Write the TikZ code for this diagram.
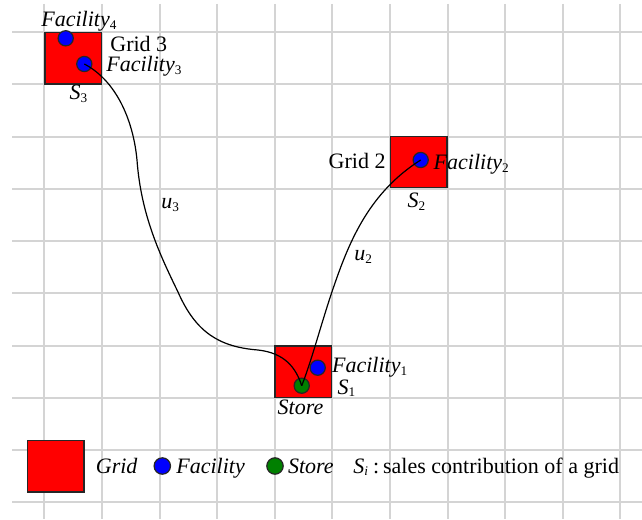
\documentclass[tikz,border=0pt]{standalone}
\usepackage{fontspec}
\setmainfont{Liberation Serif}
\usepackage{tikz}
\usetikzlibrary{positioning,calc}
\definecolor{gridgrey}{RGB}{212,212,212}
\definecolor{storegreen}{RGB}{0,128,0}
\newcommand{\idx}[1]{\raisebox{-1.4pt}{\fontsize{6.6}{8}\selectfont #1}}

\begin{document}
\begin{tikzpicture}[x=0.5pt, y=-0.5pt, font=\fontsize{11}{13}\selectfont,
  gridline/.style={draw=gridgrey, line width=1pt},
  cellbox/.style={draw=black!85, fill=red, line width=0.7pt, minimum width=28.2pt, minimum height=25.6pt, inner sep=0pt},
  facdot/.style={circle, draw=black!85, fill=blue, line width=0.6pt, minimum size=7.6pt, inner sep=0pt},
  storedot/.style={facdot, fill=storegreen},
  lab/.style={anchor=base west, inner sep=0pt},
  link/.style={draw=black, line width=0.6pt}]
\useasboundingbox (0,0) rectangle (642,519);
% background grid
\foreach \x in {0,...,10} \draw[gridline] ({44.3+57.6*\x},4) -- ({44.3+57.6*\x},519);
\foreach \y in {0,...,9} \draw[gridline] (12,{32.3+52.2*\y}) -- (642,{32.3+52.2*\y});
% grids
\node[cellbox] (grid3) at (73.1,58.4) {};
\node[cellbox] (grid2) at (418.7,162) {};
\node[cellbox] (grid1) at (303,371.6) {};
% facilities and store
\node[facdot] (fac4) at (65.7,38.3) {};
\node[facdot] (fac3) at (84.3,64) {};
\node[facdot] (fac2) at (420.7,160) {};
\node[facdot] (fac1) at (317.7,367.7) {};
\node[storedot] (store) at (301.7,385.7) {};
% routes
\draw[link] (fac3.center) .. controls (115,80) and (133,118) .. (137,160) .. controls (141,215) and (160,255) .. (178,292) .. controls (196,333) and (220,347) .. (258,350) .. controls (285,353) and (296,368) .. (store.center);
\draw[link] (store.center) .. controls (312,360) and (322,320) .. (335,283) .. controls (350,240) and (370,192) .. (fac2.center);
% labels
\node[lab] (l4) at (41,26.7) {\textit{Facility}\idx{4}};
\node[lab] (g3) at (110,51.7) {Grid 3};
\node[lab] (l3) at (106,71.7) {\textit{Facility}\idx{3}};
\node[lab] (s3) at (69.3,100) {\textit{S}\idx{3}};
\node[lab] (g2) at (328.3,168.3) {Grid 2};
\node[lab] (l2) at (433.3,169.3) {\textit{Facility}\idx{2}};
\node[lab] (s2) at (407.3,207.3) {\textit{S}\idx{2}};
\node[lab] (u3) at (161,208.3) {\textit{u}\idx{3}};
\node[lab] (u2) at (354,260.7) {\textit{u}\idx{2}};
\node[lab] (l1) at (331.7,372.7) {\textit{Facility}\idx{1}};
\node[lab] (s1) at (337.3,394) {\textit{S}\idx{1}};
\node[lab] (st) at (277.3,414) {\textit{Store}};
% legend
\node[cellbox] (keygrid) at (55.8,466.2) {};
\node[lab] (keygridtxt) at (95.5,473) {\textit{Grid}};
\node[facdot, minimum size=8.2pt] (keyfac) at (162.3,466) {};
\node[lab] (keyfactxt) at (176,473) {\textit{Facility}};
\node[storedot, minimum size=8.2pt] (keystore) at (275,466) {};
\node[lab] (keystoretxt) at (287.7,473) {\textit{Store}};
\node[lab] (keys) at (353,473) {\textit{S}\idx{\textit{i}}\hspace{2.5pt}:\hspace{2pt}sales contribution of a grid};
\end{tikzpicture}
\end{document}
